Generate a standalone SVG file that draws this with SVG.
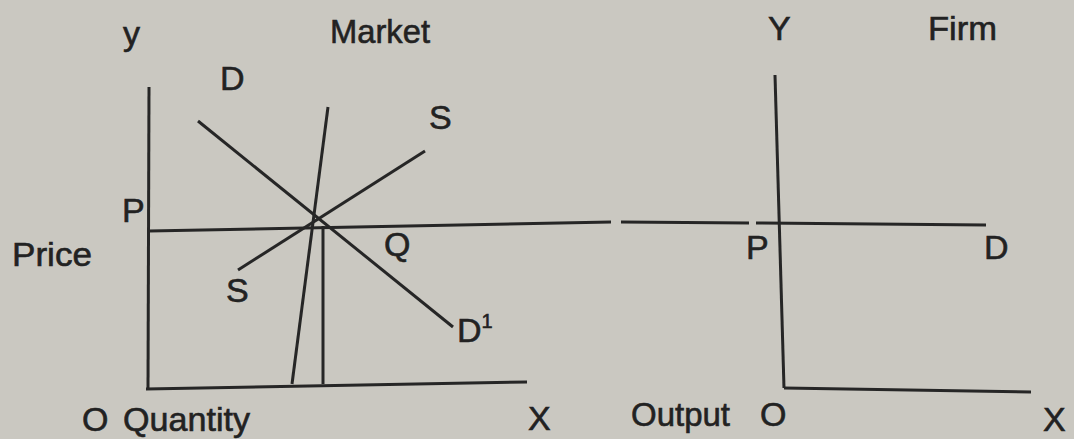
<svg xmlns="http://www.w3.org/2000/svg" width="1074" height="439" viewBox="0 0 1074 439">
<style>
.ln{stroke:#262626;stroke-width:3;fill:none;stroke-linecap:butt}
.t{font-family:"Liberation Sans",Arial,sans-serif;font-size:34px;fill:#222;stroke:#222;stroke-width:0.6}
</style>
<rect x="0" y="0" width="1074" height="439" fill="#cac8c1"/>
<g id="market">
<g id="market-axes">
<line class="ln" x1="149" y1="87" x2="148" y2="389"/>
<line class="ln" x1="146" y1="389" x2="527" y2="382"/>
</g>
<g id="market-curves">
<line class="ln" x1="198" y1="121" x2="453" y2="327"/>
<line class="ln" x1="238" y1="270" x2="425" y2="151"/>
<line class="ln" x1="328" y1="107" x2="292" y2="384"/>
<line class="ln" x1="323" y1="226" x2="323" y2="384"/>
</g>
<g id="price-line">
<line class="ln" x1="149" y1="231" x2="611" y2="222"/>
<line class="ln" x1="621" y1="222" x2="749" y2="223"/>
<line class="ln" x1="756" y1="223" x2="986" y2="225"/>
</g>
<g id="market-labels">
<text class="t" x="123" y="45">y</text>
<text class="t" x="330" y="43" textLength="100" lengthAdjust="spacingAndGlyphs">Market</text>
<text class="t" x="220" y="90">D</text>
<text class="t" x="429" y="129">S</text>
<text class="t" x="122" y="222">P</text>
<text class="t" x="12" y="266" textLength="80" lengthAdjust="spacingAndGlyphs">Price</text>
<text class="t" x="384" y="256">Q</text>
<text class="t" x="226" y="302">S</text>
<text class="t" x="457" y="342">D<tspan font-size="20" dy="-14">1</tspan></text>
<text class="t" x="82" y="431">O</text>
<text class="t" x="123" y="431" textLength="127" lengthAdjust="spacingAndGlyphs">Quantity</text>
<text class="t" x="528" y="430">X</text>
</g>
</g>
<g id="firm">
<g id="firm-axes">
<line class="ln" x1="775" y1="75" x2="784" y2="388"/>
<line class="ln" x1="784" y1="388" x2="1031" y2="392"/>
</g>
<g id="firm-labels">
<text class="t" x="768" y="40">Y</text>
<text class="t" x="928" y="40" textLength="69" lengthAdjust="spacingAndGlyphs">Firm</text>
<text class="t" x="746" y="259">P</text>
<text class="t" x="984" y="259">D</text>
<text class="t" x="631" y="426" textLength="99" lengthAdjust="spacingAndGlyphs">Output</text>
<text class="t" x="760" y="426">O</text>
<text class="t" x="1043" y="431">X</text>
</g>
</g>
</svg>
